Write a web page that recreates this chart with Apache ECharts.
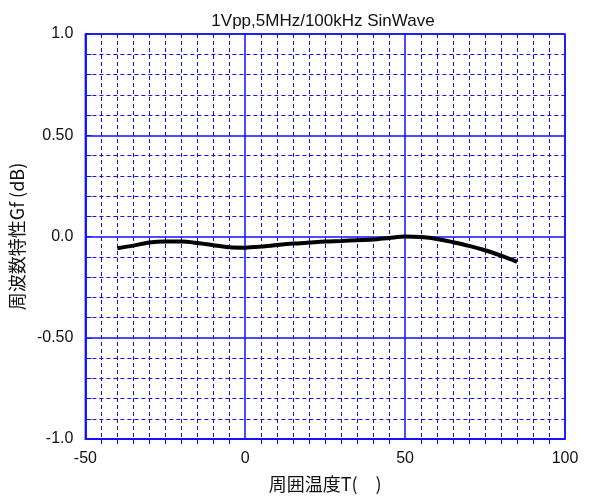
<!DOCTYPE html>
<html>
<head>
<meta charset="utf-8">
<script src="https://cdn.jsdelivr.net/npm/echarts@6/dist/echarts.min.js"></script>
<style>
html,body{margin:0;padding:0;background:#fff;}
#chart{width:591px;height:498px;}
</style>
</head>
<body>
<div id="chart"></div>
<script>
// Ambient temperature (°C) and frequency response Gf (dB)
const temperature = [-40,-35,-30,-25,-20,-15,-10,-5,0,5,10,15,20,25,30,35,40,45,50,55,60,65,70,75,80,85];
const gainDb = [-0.058,-0.045,-0.030,-0.025,-0.025,-0.032,-0.043,-0.053,-0.055,-0.050,-0.042,-0.035,-0.030,-0.025,-0.022,-0.018,-0.015,-0.007,0.000,-0.003,-0.012,-0.028,-0.046,-0.068,-0.095,-0.125];
const yTickLabels = {'1': '1.0', '0.5': '0.50', '0': '0.0', '-0.5': '-0.50', '-1': '-1.0'};

const blue = '#1010ff';
const font = 'Liberation Sans, Arial, sans-serif';
const cjk = 'Noto Sans CJK JP, sans-serif';
const majorGrid = () => ({show: true, lineStyle: {color: blue, width: 1.5, type: 'solid'}});
const minorGrid = () => ({show: true, lineStyle: {color: blue, width: 1, type: [4, 3]}});
const chart = echarts.init(document.getElementById('chart'));
chart.setOption({
  animation: false,
  backgroundColor: '#fff',
  title: {
    text: '1Vpp,5MHz/100kHz SinWave',
    left: 318, top: 8, textAlign: 'center',
    textStyle: {fontFamily: font, fontSize: 17, fontWeight: 'normal', color: '#111'}
  },
  grid: {left: 85, right: 26, top: 34, bottom: 57, show: true, borderColor: blue, borderWidth: 1.5},
  xAxis: {
    type: 'value', min: -50, max: 100, interval: 50,
    name: '周囲温度T(　)', nameLocation: 'middle', nameGap: 36,
    nameTextStyle: {fontFamily: cjk, fontSize: 18, color: '#111'},
    axisLine: {show: true, onZero: false, lineStyle: {color: blue, width: 1.5}},
    axisTick: {show: false},
    minorTick: {show: true, splitNumber: 10, length: 5, lineStyle: {color: blue}},
    axisLabel: {fontFamily: font, fontSize: 16, color: '#111', margin: 12},
    splitLine: majorGrid(),
    minorSplitLine: minorGrid()
  },
  yAxis: {
    type: 'value', min: -1, max: 1, interval: 0.5,
    name: '周波数特性Gf (dB)', nameLocation: 'middle', nameGap: 53,
    nameTextStyle: {fontFamily: cjk, fontSize: 18, color: '#111'},
    axisLine: {show: true, onZero: false, lineStyle: {color: blue, width: 1.5}},
    axisTick: {show: true, inside: true, length: 6, lineStyle: {color: blue}},
    minorTick: {show: true, splitNumber: 5, length: 6, lineStyle: {color: blue}},
    axisLabel: {fontFamily: font, fontSize: 16, color: '#111', margin: 12,
      formatter: v => yTickLabels[String(v)] ?? String(v)},
    splitLine: majorGrid(),
    minorSplitLine: minorGrid()
  },
  series: [{
    type: 'line',
    data: temperature.map((t, i) => [t, gainDb[i]]),
    showSymbol: false,
    smooth: 0.3,
    lineStyle: {color: '#000', width: 4}
  }]
});
</script>
</body>
</html>
